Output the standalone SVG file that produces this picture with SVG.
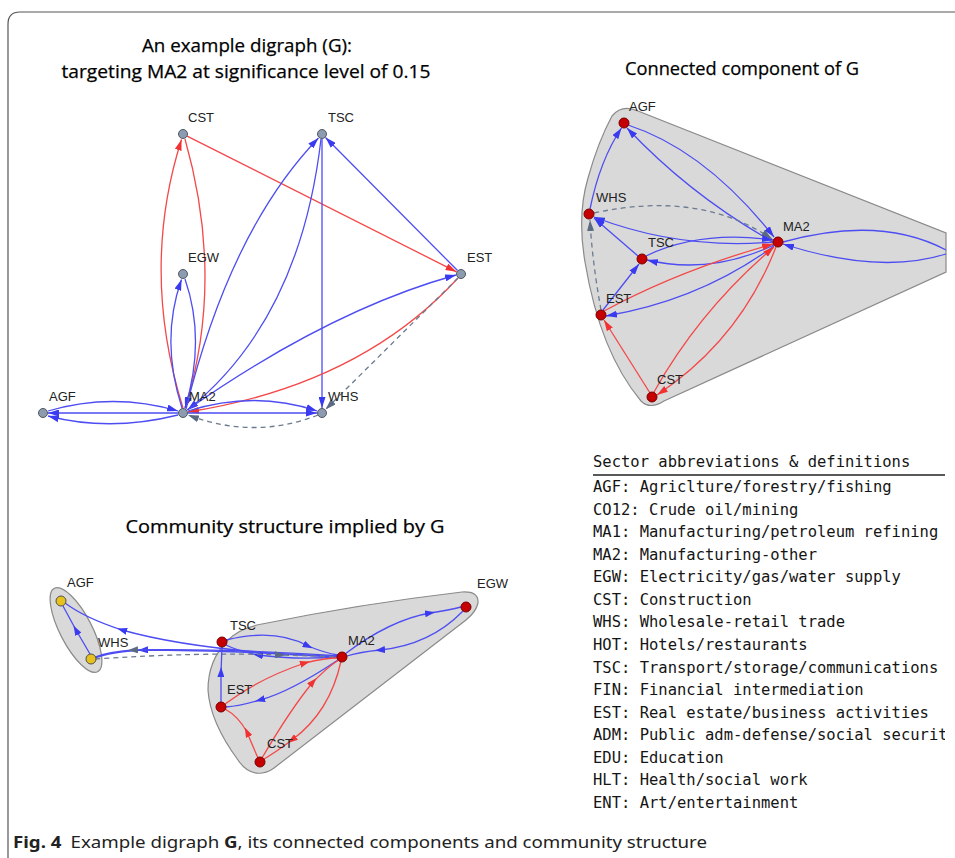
<svg xmlns="http://www.w3.org/2000/svg" width="955" height="858" viewBox="0 0 955 858">
<style>
.ttl{font-family:"Open Sans","Noto Sans","Liberation Sans",sans-serif;font-size:18.5px;fill:#000;stroke:#000;stroke-width:0.25}
.lb{font-family:"Liberation Sans",Arial,sans-serif;font-size:13px;fill:#222}
.e{fill:none;stroke-width:1.3}
.b{stroke:#4d4df2}
.r{stroke:#f44848}
.d{stroke:#6b7b90;stroke-dasharray:5 4}
.ng{fill:#8d9bb0;stroke:#505860;stroke-width:1}
.nr{fill:#c40000;stroke:#7a0000;stroke-width:1}
.ny{fill:#e8c21c;stroke:#505050;stroke-width:1}
.hull{fill:#d9d9d9;stroke:#8a8a8a;stroke-width:1.2}
.lg{font-family:"DejaVu Sans Mono","Liberation Mono",monospace;font-size:15.5px;fill:#151515}
.cap{font-family:"Noto Sans","Open Sans","Liberation Sans",sans-serif;font-size:16.5px;fill:#222}
</style>
<defs>
<marker id="ab" viewBox="0 0 11 7" refX="11" refY="3.5" markerWidth="11" markerHeight="7" markerUnits="userSpaceOnUse" orient="auto"><path d="M0,0 L11,3.5 L0,7 z" fill="#3a3af0"/></marker>
<marker id="ar" viewBox="0 0 11 7" refX="11" refY="3.5" markerWidth="11" markerHeight="7" markerUnits="userSpaceOnUse" orient="auto"><path d="M0,0 L11,3.5 L0,7 z" fill="#f23232"/></marker>
<marker id="ag" viewBox="0 0 11 7" refX="11" refY="3.5" markerWidth="11" markerHeight="7" markerUnits="userSpaceOnUse" orient="auto"><path d="M0,0 L11,3.5 L0,7 z" fill="#5a6a82"/></marker>
<marker id="mb" viewBox="0 0 10 7" refX="5" refY="3.5" markerWidth="10" markerHeight="7" markerUnits="userSpaceOnUse" orient="auto"><path d="M0,0 L10,3.5 L0,7 z" fill="#3a3af0"/></marker>
<marker id="mr" viewBox="0 0 10 7" refX="5" refY="3.5" markerWidth="10" markerHeight="7" markerUnits="userSpaceOnUse" orient="auto"><path d="M0,0 L10,3.5 L0,7 z" fill="#f23232"/></marker>
<marker id="mg" viewBox="0 0 10 7" refX="5" refY="3.5" markerWidth="10" markerHeight="7" markerUnits="userSpaceOnUse" orient="auto"><path d="M0,0 L10,3.5 L0,7 z" fill="#5a6a82"/></marker>
<clipPath id="lgclip"><rect x="580" y="440" width="365" height="390"/></clipPath>
</defs>
<rect width="955" height="858" fill="#fff"/>
<path d="M8,858 L8,24 Q8,12 20,12 L955,12" fill="none" stroke="#555" stroke-width="1.2"/>

<!-- Titles -->
<text class="ttl" x="247" y="52" text-anchor="middle" textLength="210" lengthAdjust="spacingAndGlyphs">An example digraph (G):</text>
<text class="ttl" x="246" y="78" text-anchor="middle" textLength="369" lengthAdjust="spacingAndGlyphs">targeting MA2 at significance level of 0.15</text>
<text class="ttl" x="742" y="75" text-anchor="middle" textLength="234" lengthAdjust="spacingAndGlyphs">Connected component of G</text>
<text class="ttl" x="285" y="533" text-anchor="middle" textLength="319" lengthAdjust="spacingAndGlyphs">Community structure implied by G</text>

<!-- ===== Graph 1: example digraph ===== -->
<g id="g1-connectors">
<path class="e r" d="M186.6,135.8 L456.5,271.8" marker-end="url(#ar)"/>
<path class="e r" d="M183,408 Q140,270 181.5,139.5" marker-end="url(#ar)"/>
<path class="e r" d="M185,139 Q225,280 185,408" marker-end="url(#ar)"/>
<path class="e b" d="M182,408 Q160,340 181.5,279.5" marker-end="url(#ab)"/>
<path class="e b" d="M185,279 Q206,340 185,408" marker-end="url(#ab)"/>
<path class="e b" d="M186,409 Q230,230 318.5,138" marker-end="url(#ab)"/>
<path class="e b" d="M321,139 Q300,320 187.5,410" marker-end="url(#ab)"/>
<path class="e b" d="M322,139 L322,408" marker-end="url(#ab)"/>
<path class="e b" d="M457.5,270.5 L325.5,137.5" marker-end="url(#ab)"/>
<path class="e b" d="M187,410 Q330,310 456,275" marker-end="url(#ab)"/>
<path class="e r" d="M458,278 Q360,385 188,412" marker-end="url(#ar)"/>
<path class="e d" d="M458,278 L325.5,409.5" marker-end="url(#ag)"/>
<path class="e d" d="M318,415 Q255,440 188,415" marker-end="url(#ag)"/>
<path class="e b" d="M188,411 Q255,390 317,411" marker-end="url(#ab)"/>
<path class="e b" d="M188,413 L317,413" marker-end="url(#ab)"/>
<path class="e b" d="M48,411 Q113,392 178,411" marker-end="url(#ab)"/>
<path class="e b" d="M178,413 L48,413" marker-end="url(#ab)"/>
<path class="e b" d="M178,415 Q110,432 48,416" marker-end="url(#ab)"/>
</g>
<g id="g1-CST"><circle class="ng" cx="183" cy="134" r="4.5"/><text class="lb" x="188" y="122">CST</text></g>
<g id="g1-TSC"><circle class="ng" cx="322" cy="134" r="4.5"/><text class="lb" x="328" y="122">TSC</text></g>
<g id="g1-EGW"><circle class="ng" cx="183" cy="274" r="4.5"/><text class="lb" x="188" y="262">EGW</text></g>
<g id="g1-EST"><circle class="ng" cx="461" cy="274" r="4.5"/><text class="lb" x="467" y="262">EST</text></g>
<g id="g1-AGF"><circle class="ng" cx="43" cy="413" r="4.5"/><text class="lb" x="49" y="401">AGF</text></g>
<g id="g1-MA2"><circle class="ng" cx="183" cy="413" r="4.5"/><text class="lb" x="189" y="401">MA2</text></g>
<g id="g1-WHS"><circle class="ng" cx="322" cy="413" r="4.5"/><text class="lb" x="328" y="401">WHS</text></g>

<!-- ===== Graph 2: connected component ===== -->
<path id="g2-hull" class="hull" d="M612,116 Q622,104 638,111 L946,233 L946,272 L664,401 Q650,410 641,401 Q600,352 585,262 Q577,215 588,178 Q598,142 612,116 Z"/>
<g id="g2-connectors">
<path class="e b" d="M590,209 Q600,160 621.5,128" marker-end="url(#ab)"/>
<path class="e b" d="M628,125 Q705,150 774,237" marker-end="url(#ab)"/>
<path class="e b" d="M773,242 Q690,195 627,128" marker-end="url(#ab)"/>
<path class="e d" d="M594,213 Q700,190 772,239" marker-end="url(#ag)"/>
<path class="e d" d="M601,310 Q592,260 590,220" marker-end="url(#ag)"/>
<path class="e b" d="M773,242 Q680,250 594,217" marker-end="url(#ab)"/>
<path class="e b" d="M638,256 L594,218" marker-end="url(#ab)"/>
<path class="e b" d="M646,256 Q700,230 773,240" marker-end="url(#ab)"/>
<path class="e b" d="M774,245 Q710,275 647,260" marker-end="url(#ab)"/>
<path class="e b" d="M603,310 L639,264" marker-end="url(#ab)"/>
<path class="e b" d="M774,246 Q700,300 606,316" marker-end="url(#ab)"/>
<path class="e r" d="M604,311 Q680,270 773,244" marker-end="url(#ar)"/>
<path class="e r" d="M650,393 L604,320" marker-end="url(#ar)"/>
<path class="e r" d="M654,392 Q700,310 774,247" marker-end="url(#ar)"/>
<path class="e r" d="M776,247 Q740,340 657,395" marker-end="url(#ar)"/>
<path class="e b" d="M783,242 Q880,215 946,250"/>
<path class="e b" d="M946,254 Q880,275 783,244" marker-end="url(#ab)"/>
</g>
<g id="g2-AGF"><circle class="nr" cx="624" cy="123" r="5"/><text class="lb" x="629" y="111">AGF</text></g>
<g id="g2-WHS"><circle class="nr" cx="589" cy="214" r="5"/><text class="lb" x="596" y="202">WHS</text></g>
<g id="g2-TSC"><circle class="nr" cx="642" cy="259" r="5"/><text class="lb" x="648" y="247">TSC</text></g>
<g id="g2-EST"><circle class="nr" cx="601" cy="315" r="5"/><text class="lb" x="606" y="303">EST</text></g>
<g id="g2-CST"><circle class="nr" cx="652" cy="397" r="5"/><text class="lb" x="657" y="384">CST</text></g>
<g id="g2-MA2"><circle class="nr" cx="778" cy="242" r="5"/><text class="lb" x="783" y="231">MA2</text></g>

<!-- ===== Graph 3: community structure ===== -->
<ellipse id="g3-hull-a" class="hull" cx="76" cy="630" rx="47" ry="16" transform="rotate(62.6 76 630)"/>
<path id="g3-hull-b" class="hull" d="M262,773 Q248,775 238,760 Q210,722 208,690 Q208,660 228,640 Q240,628 262,624 Q360,604 462,592 Q479,591 478,603 Q476,612 466,620 L274,768 Q269,772 262,773 Z"/>
<g id="g3-connectors">
<path class="e b" d="M90,654 L76,630 L63,606" marker-mid="url(#mb)"/>
<path class="e b" d="M342,657 Q200,652 122,630 Q85,618 65,603" marker-mid="url(#mb)"/>
<path class="e b" d="M342,657 Q220,650 143,650 Q110,652 95,658" marker-mid="url(#mb)"/>
<path class="e b" d="M342,656 Q220,648 133,650 Q108,652 95,657" marker-mid="url(#mg)"/>
<path class="e b" d="M226,640 Q275,628 308,646 Q325,653 338,655" marker-mid="url(#mb)"/>
<path class="e b" d="M338,657 Q295,660 258,655 Q238,651 226,645" marker-mid="url(#mb)"/>
<path class="e d" d="M95,659 Q200,652 280,655 Q315,656 337,657" marker-mid="url(#mg)"/>
<path class="e b" d="M221,702 L221,672 L222,647" marker-mid="url(#mb)"/>
<path class="e b" d="M338,660 Q290,692 260,700 Q240,706 226,707" marker-mid="url(#mb)"/>
<path class="e r" d="M225,704 Q260,678 305,663 Q325,658 338,658" marker-mid="url(#mr)"/>
<path class="e r" d="M258,758 Q251,742 247,732 Q238,716 225,709" marker-mid="url(#mr)"/>
<path class="e r" d="M262,758 Q290,710 313,682 Q330,665 339,660" marker-mid="url(#mr)"/>
<path class="e r" d="M341,661 Q330,712 292,740 Q276,752 264,759" marker-mid="url(#mr)"/>
<path class="e b" d="M345,654 Q390,620 430,613 Q450,610 461,607" marker-mid="url(#mb)"/>
<path class="e b" d="M463,611 Q430,645 380,650 Q360,652 347,656" marker-mid="url(#mb)"/>
</g>
<g id="g3-AGF"><circle class="ny" cx="61" cy="601" r="5"/><text class="lb" x="67" y="587">AGF</text></g>
<g id="g3-WHS"><circle class="ny" cx="91" cy="659" r="5"/><text class="lb" x="98" y="647">WHS</text></g>
<g id="g3-TSC"><circle class="nr" cx="222" cy="642" r="5"/><text class="lb" x="230" y="630">TSC</text></g>
<g id="g3-MA2"><circle class="nr" cx="342" cy="657" r="5"/><text class="lb" x="348" y="645">MA2</text></g>
<g id="g3-EST"><circle class="nr" cx="221" cy="707" r="5"/><text class="lb" x="227" y="694">EST</text></g>
<g id="g3-CST"><circle class="nr" cx="260" cy="762" r="5"/><text class="lb" x="267" y="748">CST</text></g>
<g id="g3-EGW"><circle class="nr" cx="466" cy="607" r="5"/><text class="lb" x="477" y="588">EGW</text></g>

<!-- ===== Legend ===== -->
<g id="legend" clip-path="url(#lgclip)">
<text class="lg" x="593" y="467">Sector abbreviations &amp; definitions</text>
<line x1="593" y1="475" x2="945" y2="475" stroke="#222" stroke-width="1.5"/>
<text class="lg" x="593" y="492">AGF: Agriclture/forestry/fishing</text>
<text class="lg" x="593" y="514.6">CO12: Crude oil/mining</text>
<text class="lg" x="593" y="537.1">MA1: Manufacturing/petroleum refining</text>
<text class="lg" x="593" y="559.7">MA2: Manufacturing-other</text>
<text class="lg" x="593" y="582.3">EGW: Electricity/gas/water supply</text>
<text class="lg" x="593" y="604.9">CST: Construction</text>
<text class="lg" x="593" y="627.4">WHS: Wholesale-retail trade</text>
<text class="lg" x="593" y="650">HOT: Hotels/restaurants</text>
<text class="lg" x="593" y="672.6">TSC: Transport/storage/communications</text>
<text class="lg" x="593" y="695.1">FIN: Financial intermediation</text>
<text class="lg" x="593" y="717.7">EST: Real estate/business activities</text>
<text class="lg" x="593" y="740.3">ADM: Public adm-defense/social securit</text>
<text class="lg" x="593" y="762.9">EDU: Education</text>
<text class="lg" x="593" y="785.4">HLT: Health/social work</text>
<text class="lg" x="593" y="808">ENT: Art/entertainment</text>
</g>

<!-- Caption -->
<text class="cap" x="13" y="848" textLength="694" lengthAdjust="spacingAndGlyphs"><tspan font-weight="bold">Fig. 4</tspan><tspan dx="8">Example digraph </tspan><tspan font-weight="bold">G</tspan>, its connected components and community structure</text>
</svg>
